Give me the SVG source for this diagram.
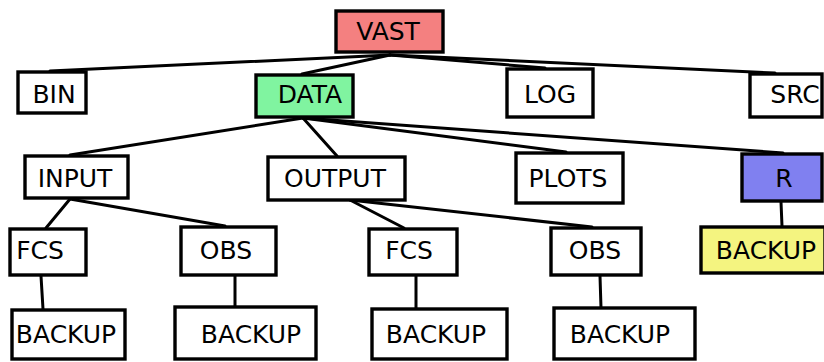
<svg xmlns="http://www.w3.org/2000/svg" width="824" height="362" viewBox="0 0 824 362">
  <style>
    .box { fill: #ffffff; stroke: #000000; stroke-width: 3.4; }
    .label { font-family: "DejaVu Sans", sans-serif; font-size: 25px; fill: #000000; text-anchor: middle; }
    .edge { stroke: #000000; stroke-width: 3; fill: none; stroke-linecap: round; }
  </style>
  <rect width="824" height="362" fill="#ffffff"/>

  <!-- tree connectors -->
  <g id="connectors">
    <line class="edge" x1="390" y1="55" x2="50" y2="71"/>
    <line class="edge" x1="390" y1="55" x2="302" y2="74"/>
    <line class="edge" x1="390" y1="55" x2="545" y2="68"/>
    <line class="edge" x1="390" y1="55" x2="775" y2="73"/>
    <line class="edge" x1="303" y1="118" x2="70" y2="155"/>
    <line class="edge" x1="303" y1="118" x2="337" y2="156"/>
    <line class="edge" x1="303" y1="118" x2="566" y2="152"/>
    <line class="edge" x1="303" y1="118" x2="783" y2="153"/>
    <line class="edge" x1="70" y1="199" x2="46" y2="228"/>
    <line class="edge" x1="70" y1="199" x2="225" y2="226"/>
    <line class="edge" x1="350" y1="200" x2="404" y2="228"/>
    <line class="edge" x1="350" y1="200" x2="592" y2="227"/>
    <line class="edge" x1="781" y1="202" x2="782" y2="226"/>
    <line class="edge" x1="41" y1="276" x2="43" y2="309"/>
    <line class="edge" x1="235" y1="276" x2="235" y2="306"/>
    <line class="edge" x1="416" y1="276" x2="416" y2="308"/>
    <line class="edge" x1="600" y1="276" x2="601" y2="308"/>
  </g>

  <g id="vast"><rect class="box" x="336" y="11" width="107" height="41" style="fill:#f48080"/><text class="label" x="388" y="40">VAST</text></g>

  <g id="bin"><rect class="box" x="18" y="72" width="68" height="41"/><text class="label" x="54" y="103">BIN</text></g>
  <g id="data"><rect class="box" x="256" y="75" width="97" height="42" style="fill:#80f4a0"/><text class="label" x="310" y="103">DATA</text></g>
  <g id="log"><rect class="box" x="507" y="69" width="86" height="48"/><text class="label" x="550" y="103">LOG</text></g>
  <g id="src"><rect class="box" x="750" y="74" width="72" height="43"/><text class="label" x="795" y="103">SRC</text></g>

  <g id="input"><rect class="box" x="25" y="156" width="103" height="42"/><text class="label" x="75" y="187">INPUT</text></g>
  <g id="output"><rect class="box" x="268" y="157" width="137" height="43"/><text class="label" x="335" y="187">OUTPUT</text></g>
  <g id="plots"><rect class="box" x="516" y="153" width="107" height="50"/><text class="label" x="568" y="187">PLOTS</text></g>
  <g id="r"><rect class="box" x="742" y="154" width="80" height="47" style="fill:#8080f0"/><text class="label" x="784" y="187">R</text></g>

  <g id="input-fcs"><rect class="box" x="10" y="229" width="76" height="46"/><text class="label" x="40" y="259">FCS</text></g>
  <g id="input-obs"><rect class="box" x="181" y="227" width="95" height="48"/><text class="label" x="226" y="259">OBS</text></g>
  <g id="output-fcs"><rect class="box" x="369" y="229" width="88" height="46"/><text class="label" x="409" y="259">FCS</text></g>
  <g id="output-obs"><rect class="box" x="551" y="228" width="90" height="47"/><text class="label" x="595" y="259">OBS</text></g>
  <g id="r-backup"><rect class="box" x="701" y="227" width="124" height="46" style="fill:#f4f480"/><text class="label" x="766" y="259">BACKUP</text></g>

  <g id="input-fcs-backup"><rect class="box" x="12" y="310" width="113" height="49"/><text class="label" x="66" y="343">BACKUP</text></g>
  <g id="input-obs-backup"><rect class="box" x="175" y="307" width="141" height="52"/><text class="label" x="251" y="343">BACKUP</text></g>
  <g id="output-fcs-backup"><rect class="box" x="372" y="309" width="135" height="50"/><text class="label" x="436" y="343">BACKUP</text></g>
  <g id="output-obs-backup"><rect class="box" x="554" y="308" width="141" height="51"/><text class="label" x="620" y="343">BACKUP</text></g>
</svg>
